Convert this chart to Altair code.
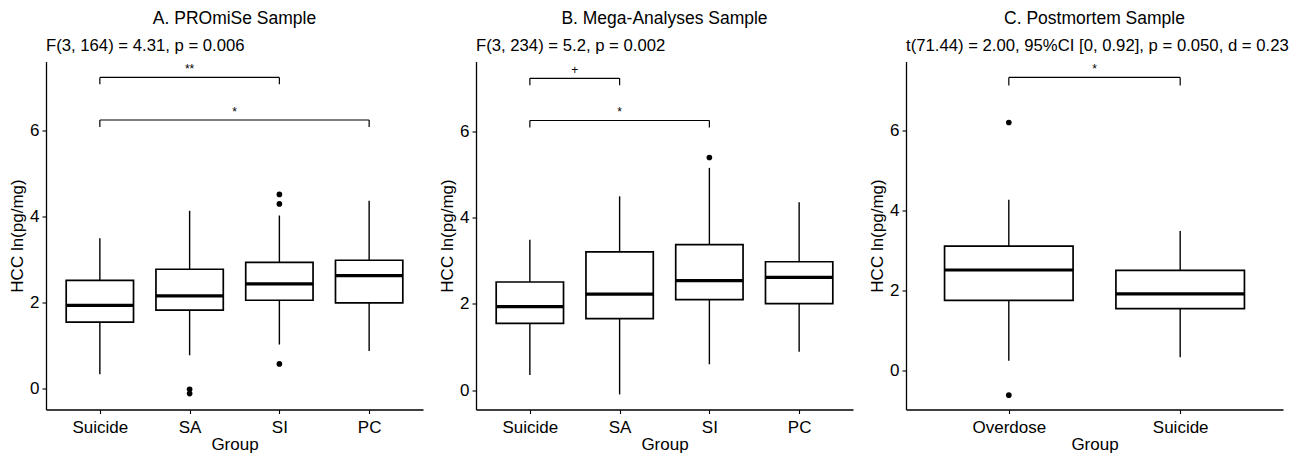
import altair as alt
import pandas as pd

FONT = "Liberation Sans"

# ---------------- Panel A: PROmiSe ----------------
a_title = "A. PROmiSe Sample"
a_stat = "F(3, 164) = 4.31, p = 0.006"
a_groups = ["Suicide", "SA", "SI", "PC"]
a_lower = [0.33, 0.77, 1.02, 0.87]
a_q1 = [1.54, 1.82, 2.05, 1.99]
a_median = [1.93, 2.15, 2.43, 2.62]
a_q3 = [2.51, 2.77, 2.93, 2.98]
a_upper = [3.49, 4.13, 4.02, 4.36]
a_out_groups = ["SA", "SA", "SI", "SI", "SI"]
a_out_values = [-0.02, -0.12, 4.51, 4.29, 0.57]
a_br_from = ["Suicide", "Suicide"]
a_br_to = ["SI", "PC"]
a_br_y = [7.23, 6.24]
a_br_label = ["**", "*"]

# ---------------- Panel B: Mega-Analyses ----------------
b_title = "B. Mega-Analyses Sample"
b_stat = "F(3, 234) = 5.2, p = 0.002"
b_groups = ["Suicide", "SA", "SI", "PC"]
b_lower = [0.35, -0.10, 0.60, 0.89]
b_q1 = [1.55, 1.66, 2.10, 2.01]
b_median = [1.94, 2.23, 2.54, 2.62]
b_q3 = [2.51, 3.21, 3.38, 2.98]
b_upper = [3.49, 4.50, 5.16, 4.36]
b_out_groups = ["SI"]
b_out_values = [5.40]
b_br_from = ["Suicide", "Suicide"]
b_br_to = ["SA", "SI"]
b_br_y = [7.24, 6.26]
b_br_label = ["+", "*"]

# ---------------- Panel C: Postmortem ----------------
c_title = "C. Postmortem Sample"
c_stat = "t(71.44) = 2.00, 95%CI [0, 0.92], p = 0.050, d = 0.23"
c_groups = ["Overdose", "Suicide"]
c_lower = [0.23, 0.32]
c_q1 = [1.75, 1.54]
c_median = [2.51, 1.91]
c_q3 = [3.11, 2.50]
c_upper = [4.27, 3.49]
c_out_groups = ["Overdose", "Overdose"]
c_out_values = [6.21, -0.63]
c_br_from = ["Overdose"]
c_br_to = ["Suicide"]
c_br_y = [7.34]
c_br_label = ["*"]

y_ticks = [0, 2, 4, 6]

W, H = 377, 348


def make_panel(title, stat, groups, lower, q1, med, q3, upper,
               out_g, out_v, br_from, br_to, br_y, br_lab, ydomain, tip):
    n = len(groups)
    pos = {g: i + 1 for i, g in enumerate(groups)}
    box = pd.DataFrame({
        "group": groups,
        "idx": [pos[g] for g in groups],
        "xl": [pos[g] - 0.375 for g in groups],
        "xr": [pos[g] + 0.375 for g in groups],
        "lower": lower, "q1": q1, "med": med, "q3": q3, "upper": upper,
    })
    out = pd.DataFrame({"idx": [pos[g] for g in out_g], "value": out_v})
    br = pd.DataFrame({
        "x1": [pos[g] for g in br_from],
        "x2": [pos[g] for g in br_to],
        "y": br_y,
        "label": br_lab,
    })
    br["xm"] = (br["x1"] + br["x2"]) / 2
    br["ytip"] = br["y"] - tip
    st = pd.DataFrame({"s": [stat]})

    xs = alt.Scale(domain=[0.4, n + 0.6], nice=False, zero=False)
    ys = alt.Scale(domain=ydomain, nice=False, zero=False)
    names = "[" + ",".join("'" + g + "'" for g in groups) + "]"
    xaxis = alt.Axis(values=list(range(1, n + 1)), labelExpr=names + "[datum.value - 1]",
                     title="Group")
    yaxis = alt.Axis(values=y_ticks, title="HCC ln(pg/mg)")

    def X(f):
        return alt.X(f, type="quantitative", scale=xs, axis=xaxis, title="Group")

    def Y(f):
        return alt.Y(f, type="quantitative", scale=ys, axis=yaxis, title="HCC ln(pg/mg)")

    base = alt.Chart(box)
    wl = base.mark_rule(color="black", strokeWidth=1.4).encode(x=X("idx"), y=Y("lower"), y2="q1")
    wu = base.mark_rule(color="black", strokeWidth=1.4).encode(x=X("idx"), y=Y("q3"), y2="upper")
    rect = base.mark_rect(fill="white", stroke="black", strokeWidth=1.7).encode(
        x=X("xl"), x2="xr", y=Y("q1"), y2="q3")
    medl = base.mark_rule(color="black", strokeWidth=3.2).encode(x=X("xl"), x2="xr", y=Y("med"))
    pts = alt.Chart(out).mark_circle(size=32, color="black", opacity=1).encode(
        x=X("idx"), y=Y("value"))
    bh = alt.Chart(br).mark_rule(color="black", strokeWidth=1.2).encode(
        x=X("x1"), x2="x2", y=Y("y"))
    bl = alt.Chart(br).mark_rule(color="black", strokeWidth=1.2).encode(
        x=X("x1"), y=Y("ytip"), y2="y")
    brr = alt.Chart(br).mark_rule(color="black", strokeWidth=1.2).encode(
        x=X("x2"), y=Y("ytip"), y2="y")
    bt = alt.Chart(br).mark_text(fontSize=12, dy=-4.5, baseline="alphabetic", font=FONT,
                                 color="black").encode(x=X("xm"), y=Y("y"), text="label:N")
    stt = alt.Chart(st).mark_text(fontSize=16.7, font=FONT, align="left",
                                  baseline="alphabetic", color="black").encode(
        x=alt.value(0), y=alt.value(-10.5), text="s:N")

    return alt.layer(wl, wu, rect, medl, pts, bh, bl, brr, bt, stt).properties(
        width=W, height=H,
        title=alt.TitleParams(title, anchor="middle", frame="group"),
    )


pa = make_panel(a_title, a_stat, a_groups, a_lower, a_q1, a_median, a_q3, a_upper,
                a_out_groups, a_out_values, a_br_from, a_br_to, a_br_y, a_br_label,
                [-0.49, 7.6], 0.16)
pb = make_panel(b_title, b_stat, b_groups, b_lower, b_q1, b_median, b_q3, b_upper,
                b_out_groups, b_out_values, b_br_from, b_br_to, b_br_y, b_br_label,
                [-0.45, 7.63], 0.16)
pc = make_panel(c_title, c_stat, c_groups, c_lower, c_q1, c_median, c_q3, c_upper,
                c_out_groups, c_out_values, c_br_from, c_br_to, c_br_y, c_br_label,
                [-0.99, 7.74], 0.2)

chart = alt.hconcat(pa, pb, pc, spacing=15).properties(
    padding={"top": 1.5, "left": 0, "right": 0, "bottom": 0}
).configure_view(
    stroke=None
).configure_axis(
    labelFont=FONT, titleFont=FONT, labelFontSize=17, titleFontSize=17,
    labelColor="black", titleColor="black", domainColor="black", tickColor="black",
    domainWidth=1.3, tickWidth=1.1, tickSize=4, grid=False,
    titleFontWeight="normal",
).configure_axisX(
    labelPadding=6, titlePadding=1,
).configure_axisY(
    labelPadding=3, titlePadding=3,
).configure_title(
    font=FONT, fontSize=17.5, fontWeight="normal", color="black", offset=10.5,
)

chart.save("out.html", embed_options={"renderer": "svg", "actions": False})
